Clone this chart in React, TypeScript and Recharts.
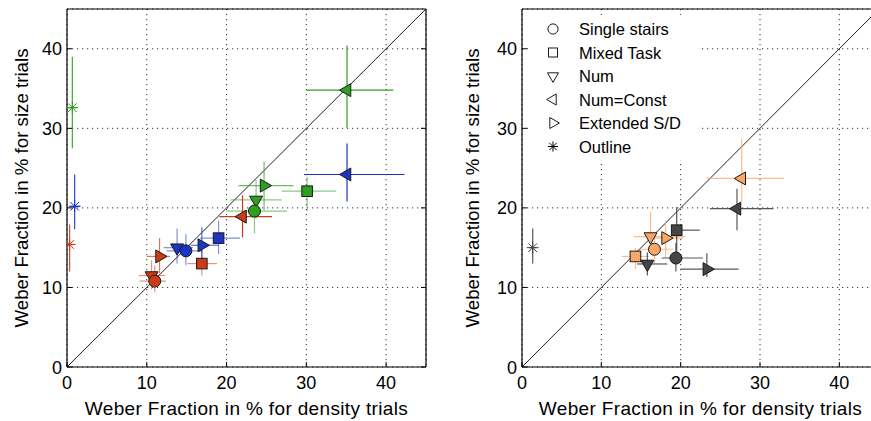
import React from 'react';
import {
  ScatterChart,
  Scatter,
  XAxis,
  YAxis,
  CartesianGrid,
  ErrorBar,
  ReferenceLine,
  Legend,
  Label,
} from 'recharts';

// ---------- data ----------
const categories = ['Single stairs', 'Mixed Task', 'Num', 'Num=Const', 'Extended S/D', 'Outline'];
const markerKinds = ['circle', 'square', 'down', 'left', 'right', 'star'];
const axisTicks = [0, 10, 20, 30, 40];
const axisDomain = [0, 45];
const xAxisTitle = 'Weber Fraction in % for density trials';
const yAxisTitle = 'Weber Fraction in % for size trials';

// rows: [x, y, xLow, xHigh, yLow, yHigh], in category order
const leftRed = [
  [11.0, 10.8, 9.1, 12.4, 9.4, 12.8],
  [16.9, 13.0, 15.1, 18.8, 11.5, 14.6],
  [10.6, 11.5, 9.0, 12.3, 9.8, 13.4],
  [22.0, 18.9, 19.1, 25.7, 16.3, 21.6],
  [11.6, 13.9, 10.0, 12.9, 11.8, 16.2],
  [0.33, 15.4, 0.0, 0.8, 12.0, 17.9],
];
const leftBlue = [
  [14.9, 14.6, 12.5, 17.0, 12.8, 16.7],
  [19.0, 16.2, 16.7, 21.7, 14.2, 18.4],
  [13.8, 15.0, 12.1, 15.8, 13.0, 17.4],
  [35.1, 24.2, 29.7, 42.3, 20.8, 28.1],
  [16.9, 15.3, 15.5, 19.0, 13.1, 17.6],
  [0.96, 20.2, 0.4, 1.6, 17.3, 24.2],
];
const leftGreen = [
  [23.5, 19.6, 20.0, 27.6, 16.8, 21.4],
  [30.1, 22.1, 26.9, 33.7, 19.6, 23.9],
  [23.7, 21.0, 20.5, 26.9, 18.7, 23.5],
  [35.1, 34.8, 30.0, 40.9, 30.0, 40.4],
  [24.7, 22.8, 21.5, 28.4, 19.7, 25.8],
  [0.67, 32.6, 0.1, 1.2, 27.5, 39.0],
];
const rightGray = [
  [19.4, 13.7, 17.6, 22.8, 12.0, 15.6],
  [19.5, 17.2, 18.9, 22.4, 13.8, 20.1],
  [15.8, 12.95, 14.5, 18.3, 11.5, 14.4],
  [27.1, 19.9, 23.7, 31.7, 17.2, 22.4],
  [23.3, 12.3, 20.0, 27.3, 11.3, 14.3],
  [1.35, 15.0, 0.9, 1.8, 13.0, 17.4],
];
const rightOrange = [
  [16.7, 14.8, 14.9, 19.1, 13.0, 16.8],
  [14.3, 13.9, 12.6, 16.0, 12.3, 15.0],
  [16.2, 16.4, 14.1, 20.6, 14.2, 19.5],
  [27.7, 23.7, 23.3, 33.0, 20.7, 28.7],
  [18.1, 16.2, 16.0, 20.3, 13.8, 18.4],
  null,
];

// ---------- styles ----------
const FONT = '"Liberation Sans", Arial, Helvetica, sans-serif';
const drawOrder = [3, 1, 4, 2, 0, 5];
const errOpacityLeft = [0.55, 0.55, 0.55, 1, 0.7, 0.9];

const leftGroups = [
  { key: 'red', points: leftRed, color: '#cc3a17', errOpacity: errOpacityLeft },
  { key: 'blue', points: leftBlue, color: '#1c34c2', errOpacity: errOpacityLeft },
  { key: 'green', points: leftGreen, color: '#2f9f20', errOpacity: errOpacityLeft },
];
const rightGroups = [
  { key: 'orange', points: rightOrange, color: '#f9a769', errOpacity: [0.75, 0.75, 0.75, 0.75, 0.75, 0.75] },
  { key: 'gray', points: rightGray, color: '#454545', errOpacity: [0.9, 0.9, 0.9, 0.9, 0.9, 0.9] },
];

function Marker({ cx, cy, kind, fill, color, s = 1 }: any) {
  const stroke = '#1a1a1a';
  if (cx == null || cy == null) return null;
  if (kind === 'circle') {
    return <circle cx={cx} cy={cy} r={6 * s} fill={fill} stroke={stroke} strokeWidth={1} />;
  }
  if (kind === 'square') {
    const h = 5.3 * s;
    return <rect x={cx - h} y={cy - h} width={2 * h} height={2 * h} fill={fill} stroke={stroke} strokeWidth={1} />;
  }
  if (kind === 'star') {
    const r = 6 * s;
    const d = r * 0.72;
    return (
      <g stroke={color} strokeWidth={1}>
        <line x1={cx - r} y1={cy} x2={cx + r} y2={cy} />
        <line x1={cx} y1={cy - r} x2={cx} y2={cy + r} />
        <line x1={cx - d} y1={cy - d} x2={cx + d} y2={cy + d} />
        <line x1={cx - d} y1={cy + d} x2={cx + d} y2={cy - d} />
      </g>
    );
  }
  const r = 7.5 * s;
  const a = r * 0.866;
  const b = r * 0.5;
  let pts = '';
  if (kind === 'down') pts = `${cx - a},${cy - b} ${cx + a},${cy - b} ${cx},${cy + r}`;
  if (kind === 'left') pts = `${cx + b},${cy - a} ${cx + b},${cy + a} ${cx - r},${cy}`;
  if (kind === 'right') pts = `${cx - b},${cy - a} ${cx - b},${cy + a} ${cx + r},${cy}`;
  return <polygon points={pts} fill={fill} stroke={stroke} strokeWidth={1} strokeLinejoin="miter" />;
}

const BottomTick = (props: any) => {
  const { x, y, payload } = props;
  return (
    <g>
      <line x1={x} y1={y} x2={x} y2={y - 5} stroke="#000" strokeWidth={1} />
      <text x={x} y={y + 22} textAnchor="middle" fontSize={18} fontFamily={FONT} fill="#000">
        {payload.value}
      </text>
    </g>
  );
};
const LeftTick = (props: any) => {
  const { x, y, payload } = props;
  return (
    <g>
      <line x1={x} y1={y} x2={x + 5} y2={y} stroke="#000" strokeWidth={1} />
      <text x={x - 5} y={y + 6.5} textAnchor="end" fontSize={18} fontFamily={FONT} fill="#000">
        {payload.value}
      </text>
    </g>
  );
};
const TopTick = (props: any) => {
  const { x, y } = props;
  return <line x1={x} y1={y} x2={x} y2={y + 5} stroke="#000" strokeWidth={1} />;
};
const RightTick = (props: any) => {
  const { x, y } = props;
  return <line x1={x} y1={y} x2={x - 5} y2={y} stroke="#000" strokeWidth={1} />;
};

function LegendBox() {
  return (
    <div style={{ background: '#fff', width: 170, height: 145 }}>
      <svg width={170} height={145}>
        {categories.map((c, i) => {
          const cy = 14 + i * 23.5;
          return (
            <g key={c}>
              <Marker cx={25} cy={cy} kind={markerKinds[i]} fill="#fff" color="#000" s={0.85} />
              <text x={51} y={cy + 6} fontSize={16.5} fontFamily={FONT} fill="#000">
                {c}
              </text>
            </g>
          );
        })}
      </svg>
    </div>
  );
}

function Panel({ groups, width, labelX, withLegend }: any) {
  const series: any[] = [];
  groups.forEach((g: any) => {
    drawOrder.forEach((ci) => {
      const p = g.points[ci];
      if (!p) return;
      const row = [
        {
          x: p[0],
          y: p[1],
          ex: [p[0] - p[2], p[3] - p[0]],
          ey: [p[1] - p[4], p[5] - p[1]],
        },
      ];
      const kind = markerKinds[ci];
      series.push(
        <Scatter
          key={`${g.key}-${ci}`}
          name={`${g.key} ${categories[ci]}`}
          data={row}
          dataKey="y"
          isAnimationActive={false}
          shape={(sp: any) => <Marker cx={sp.cx} cy={sp.cy} kind={kind} fill={g.color} color={g.color} />}
        >
          <ErrorBar
            dataKey="ex"
            direction="x"
            width={0}
            stroke={g.color}
            strokeWidth={1.2}
            strokeOpacity={g.errOpacity[ci]}
            isAnimationActive={false}
          />
          <ErrorBar
            dataKey="ey"
            direction="y"
            width={0}
            stroke={g.color}
            strokeWidth={1.2}
            strokeOpacity={g.errOpacity[ci]}
            isAnimationActive={false}
          />
        </Scatter>
      );
    });
  });

  return (
    <ScatterChart width={width} height={421} margin={{ top: 0, right: 0, bottom: 0, left: 0 }}>
      <CartesianGrid stroke="#333" strokeDasharray="1.2 3.8" strokeWidth={1} />
      <XAxis
        type="number"
        dataKey="x"
        domain={axisDomain}
        ticks={axisTicks}
        allowDataOverflow
        interval={0}
        height={54}
        tickSize={0}
        tickMargin={0}
        tickLine={false}
        tick={<BottomTick />}
        axisLine={{ stroke: '#000', strokeWidth: 1.2 }}
      >
        <Label
          content={({ viewBox }: any) => (
            <text
              x={viewBox.x + viewBox.width / 2}
              y={viewBox.y + 48}
              textAnchor="middle"
              fontSize={19}
              letterSpacing={0.35}
              fontFamily={FONT}
              fill="#000"
            >
              {xAxisTitle}
            </text>
          )}
        />
      </XAxis>
      <XAxis
        xAxisId="top"
        orientation="top"
        type="number"
        domain={axisDomain}
        ticks={axisTicks}
        allowDataOverflow
        interval={0}
        height={9}
        tickSize={0}
        tickMargin={0}
        tickLine={false}
        tick={<TopTick />}
        axisLine={{ stroke: '#000', strokeWidth: 1.2 }}
      />
      <YAxis
        type="number"
        dataKey="y"
        domain={axisDomain}
        ticks={axisTicks}
        allowDataOverflow
        interval={0}
        width={67}
        tickSize={0}
        tickMargin={0}
        tickLine={false}
        tick={<LeftTick />}
        axisLine={{ stroke: '#000', strokeWidth: 1.2 }}
      >
        <Label
          content={({ viewBox }: any) => {
            const tx = viewBox.x + labelX;
            const ty = viewBox.y + viewBox.height / 2;
            return (
              <text
                x={tx}
                y={ty}
                transform={`rotate(-90, ${tx}, ${ty})`}
                textAnchor="middle"
                dominantBaseline="central"
                fontSize={18.7}
                fontFamily={FONT}
                fill="#000"
              >
                {yAxisTitle}
              </text>
            );
          }}
        />
      </YAxis>
      <YAxis
        yAxisId="right"
        orientation="right"
        type="number"
        domain={axisDomain}
        ticks={axisTicks}
        allowDataOverflow
        interval={0}
        width={14}
        tickSize={0}
        tickMargin={0}
        tickLine={false}
        tick={<RightTick />}
        axisLine={{ stroke: '#000', strokeWidth: 1.2 }}
      />
      <ReferenceLine
        segment={[
          { x: axisDomain[0], y: axisDomain[0] },
          { x: axisDomain[1], y: axisDomain[1] },
        ]}
        stroke="#222"
        strokeWidth={1}
        ifOverflow="hidden"
      />
      {series}
      {withLegend && (
        <Legend
          layout="vertical"
          align="center"
          verticalAlign="middle"
          content={() => <LegendBox />}
          wrapperStyle={{ position: 'absolute', left: 73, top: 15, width: 170, height: 145 }}
        />
      )}
    </ScatterChart>
  );
}

export default function App() {
  return (
    <div
      style={{
        position: 'absolute',
        left: 0,
        top: 0,
        width: 871,
        height: 421,
        overflow: 'hidden',
        background: '#fff',
        fontFamily: FONT,
      }}
    >
      <div style={{ position: 'absolute', left: 0, top: 0 }}>
        <Panel groups={leftGroups} width={440} labelX={21} withLegend={false} />
      </div>
      <div style={{ position: 'absolute', left: 455, top: 0 }}>
        <Panel groups={rightGroups} width={438} labelX={17} withLegend />
      </div>
    </div>
  );
}
